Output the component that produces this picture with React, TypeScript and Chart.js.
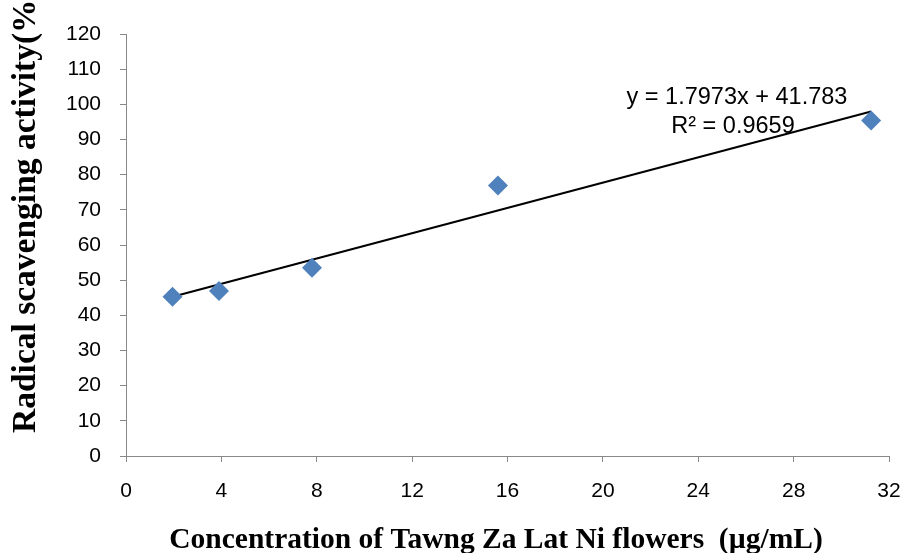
import React, { useEffect, useRef } from "react";
import { Chart, registerables } from "chart.js";

Chart.register(...registerables);

const concentrations = [1.95, 3.9, 7.8, 15.6, 31.25];
const activity = [45.3, 46.9, 53.5, 76.9, 95.4];
const slope = 1.7973;
const intercept = 41.783;
const equationLabel = "y = 1.7973x + 41.783";
const r2Label = "R² = 0.9659";
const xTitle = "Concentration of Tawng Za Lat Ni flowers  (µg/mL)";
const yTitle = "Radical scavenging activity(%)";

const titlesPlugin = {
  id: "titlesPlugin",
  afterDraw(chart: any) {
    const ctx = chart.ctx;
    ctx.save();
    ctx.fillStyle = "#000";
    // x title
    ctx.font = "bold 29.5px 'Liberation Serif', 'Times New Roman', serif";
    ctx.textAlign = "center";
    ctx.textBaseline = "alphabetic";
    ctx.fillText(xTitle, 496, 548);
    // y title
    ctx.translate(35, 433);
    ctx.rotate(-Math.PI / 2);
    ctx.font = "bold 33.5px 'Liberation Serif', 'Times New Roman', serif";
    ctx.textAlign = "left";
    ctx.textBaseline = "alphabetic";
    ctx.fillText(yTitle, 0, 0);
    ctx.restore();
    // equation
    ctx.save();
    ctx.fillStyle = "#000";
    ctx.font = "23.5px 'Liberation Sans', Arial, sans-serif";
    ctx.textAlign = "center";
    ctx.textBaseline = "middle";
    ctx.fillText(equationLabel, 737, 98);
    ctx.fillText(r2Label, 733, 127);
    ctx.restore();
  },
};

export default function App() {
  const ref = useRef<HTMLCanvasElement>(null);
  useEffect(() => {
    document.body.style.margin = "0";
    const xs0 = concentrations[0];
    const xs1 = concentrations[concentrations.length - 1];
    const chart = new Chart(ref.current!, {
      type: "scatter",
      data: {
        datasets: [
          {
            type: "line",
            data: [
              { x: xs0, y: slope * xs0 + intercept },
              { x: xs1, y: slope * xs1 + intercept },
            ],
            borderColor: "#000",
            borderWidth: 2,
            pointRadius: 0,
            fill: false,
            order: 1,
          } as any,
          {
            data: concentrations.map((x, i) => ({ x, y: activity[i] })),
            backgroundColor: "#4F81BD",
            borderColor: "#4F81BD",
            pointStyle: "rectRot",
            pointRadius: 10,
            borderWidth: 0,
            order: 0,
          },
        ],
      },
      options: {
        responsive: false,
        animation: false,
        layout: { padding: { top: 34, right: 15, left: 0, bottom: 0 } },
        plugins: { legend: { display: false }, tooltip: { enabled: false } },
        scales: {
          x: {
            type: "linear",
            min: 0,
            max: 32,
            ticks: {
              stepSize: 4,
              color: "#000",
              padding: 17,
              font: { family: "'Liberation Sans', Arial, sans-serif", size: 21 },
            },
            grid: { drawOnChartArea: false, drawTicks: true, tickLength: 6, color: "#898989" },
            border: { color: "#898989", width: 1 },
            afterFit: (s: any) => {
              s.height = 97;
              s.paddingRight = 0;
              s.paddingLeft = 0;
            },
          },
          y: {
            min: 0,
            max: 120,
            ticks: {
              stepSize: 10,
              color: "#000",
              padding: 19,
              font: { family: "'Liberation Sans', Arial, sans-serif", size: 21 },
            },
            grid: { drawOnChartArea: false, drawTicks: true, tickLength: 6, color: "#898989" },
            border: { color: "#898989", width: 1 },
            afterFit: (s: any) => {
              s.width = 126;
            },
          },
        },
      },
      plugins: [titlesPlugin],
    });
    return () => chart.destroy();
  }, []);
  return <canvas ref={ref} width={904} height={553} style={{ display: "block" }} />;
}
